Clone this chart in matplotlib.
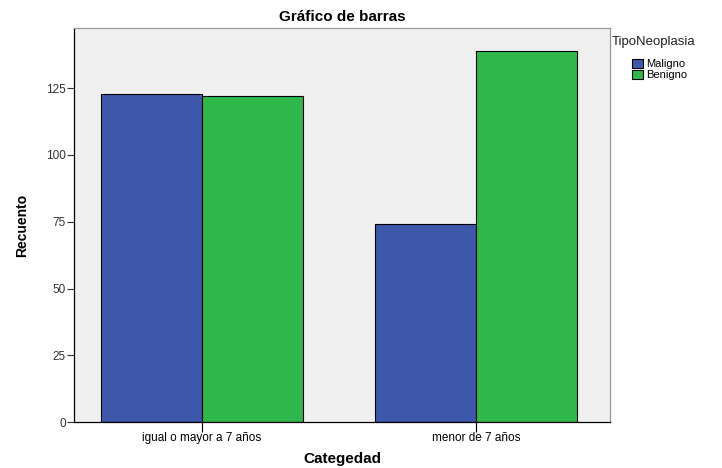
import numpy as np
import matplotlib.pyplot as plt

# datos
categorias = ["igual o mayor a 7 años", "menor de 7 años"]
maligno = [123, 74]
benigno = [122, 139]
series = ["Maligno", "Benigno"]

color_mal = "#3D57AB"
color_ben = "#2DB849"

fig = plt.figure(figsize=(7.22, 4.68), dpi=100)
ax = fig.add_axes([0.1025, 0.098, 0.7425, 0.842])
ax.set_facecolor("#F0F0F0")

x = np.arange(len(categorias))
ancho = 0.37
ax.bar(x - ancho / 2, maligno, ancho, color=color_mal, edgecolor="black", linewidth=0.8, label=series[0])
ax.bar(x + ancho / 2, benigno, ancho, color=color_ben, edgecolor="black", linewidth=0.8, label=series[1])

ax.set_xlim(-0.467, 1.489)
ax.set_ylim(0, 147.5)
ax.set_yticks([0, 25, 50, 75, 100, 125])
ax.set_xticks(x)
ax.set_xticklabels(categorias, fontsize=8.5, family="Liberation Sans")
ax.tick_params(axis="y", labelsize=8.5, length=5, width=0.8, pad=1, colors="#333333")
ax.tick_params(axis="x", length=7, width=0.8, pad=0)
for lab in ax.get_yticklabels():
    lab.set_family("Liberation Sans")

for s in ["left", "bottom"]:
    ax.spines[s].set_color("black")
    ax.spines[s].set_linewidth(0.9)
for s in ["top", "right"]:
    ax.spines[s].set_color("#999999")
    ax.spines[s].set_linewidth(0.9)

ax.set_title("Gráfico de barras", fontsize=11, fontweight="bold", family="Liberation Sans", pad=5)
ax.set_xlabel("Categedad", fontsize=11, fontweight="bold", family="Liberation Sans", labelpad=6)
ax.set_ylabel("Recuento", fontsize=10, fontweight="bold", family="Liberation Sans", labelpad=12)

# titulo de la leyenda aparte, las entradas van con sangria
fig.text(0.847, 0.91, "TipoNeoplasia", fontsize=9.5, family="Liberation Sans", color="#222222", va="center")
leg = ax.legend(loc="upper left", bbox_to_anchor=(1.025, 0.945), frameon=False, fontsize=8,
                handlelength=1.0, handleheight=0.9, handletextpad=0.2, labelspacing=0.05, borderpad=0.3)
for t in leg.get_texts():
    t.set_family("Liberation Sans")

fig.savefig("out.png", dpi=100)
